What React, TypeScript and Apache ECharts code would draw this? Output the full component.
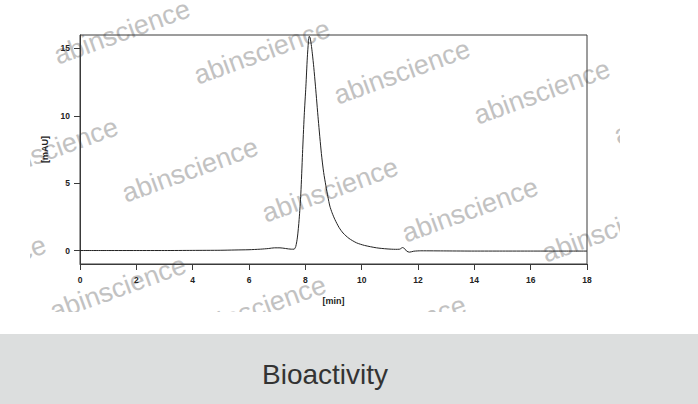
import React, { useEffect, useRef } from "react";
import * as echarts from "echarts";

// Retention time (min) and absorbance (mAU)
const timeMin: number[] = [
  0, 1, 2, 3, 4, 5, 5.5, 6, 6.4, 6.7, 6.9, 7.1, 7.3, 7.5, 7.6, 7.66, 7.72, 7.78, 7.84, 7.9,
  7.96, 8.02, 8.07, 8.11, 8.14, 8.17, 8.21, 8.25, 8.3, 8.36, 8.46, 8.57, 8.65, 8.73, 8.8, 8.87,
  8.95, 9.05, 9.2, 9.34, 9.55, 9.82, 10.1, 10.53, 10.9, 11.2, 11.35, 11.45, 11.52, 11.6, 11.7,
  11.85, 12.1, 13, 14, 15, 16, 17, 18,
];
const signalMAU: number[] = [
  0, 0, 0, 0, 0.01, 0.02, 0.04, 0.06, 0.1, 0.15, 0.2, 0.2, 0.15, 0.1, 0.1, 0.3, 1.0, 2.3, 4.2, 7.2,
  10.0, 12.2, 14.3, 15.5, 15.9, 15.8, 15.3, 14.6, 13.6, 12.2, 9.7, 7.2, 5.8, 4.8, 4.0, 3.3,
  2.8, 2.3, 1.7, 1.3, 0.9, 0.57, 0.38, 0.2, 0.12, 0.09, 0.1, 0.22, 0.15, -0.05, -0.12,
  -0.05, -0.02, -0.03, -0.04, -0.04, -0.04, -0.04, -0.04,
];
const yTickValues: number[] = [0, 5, 10, 15];
const xAxisName = "[min]";
const yAxisName = "[mAU]";
const captionText = "Bioactivity";
const watermarkText = "abinscience";
const watermarkCenters: number[][] = [
  [122, 32], [262, 52], [402, 72], [542, 92], [682, 112],
  [50, 150], [190, 170], [330, 190], [470, 210], [610, 230],
  [-22, 268], [118, 288], [258, 308], [398, 328],
];

export default function App() {
  const ref = useRef<HTMLDivElement>(null);
  useEffect(() => {
    document.body.style.margin = "0";
    if (!ref.current) return;
    const chart = echarts.init(ref.current, null, { renderer: "svg" });
    const font = "'Liberation Sans', Arial, Helvetica, sans-serif";
    const axisColor = "#3a3a3a";
    const data = timeMin.map((t, i) => [t, signalMAU[i]]);
    const watermarks = watermarkCenters.map(([x, y]) => ({
      type: "text",
      x,
      y,
      rotation: (20 * Math.PI) / 180,
      z: -10,
      silent: true,
      style: {
        text: watermarkText,
        fontSize: 27,
        fontFamily: font,
        fill: "#c2c2c2",
        align: "center",
        verticalAlign: "middle",
      },
    }));
    chart.setOption({
      animation: false,
      backgroundColor: "#ffffff",
      grid: {
        left: 80,
        right: 111,
        top: 35,
        bottom: 140,
        show: true,
        borderColor: axisColor,
        borderWidth: 1,
        backgroundColor: "transparent",
        outerBoundsMode: "none",
      },
      xAxis: {
        type: "value",
        min: 0,
        max: 18,
        interval: 2,
        name: xAxisName,
        nameLocation: "middle",
        nameGap: 32,
        nameTextStyle: { fontSize: 9, fontWeight: "bold", fontFamily: font, color: "#222" },
        axisLine: { onZero: false, lineStyle: { color: axisColor, width: 1 } },
        axisTick: { show: true, length: 6, lineStyle: { color: axisColor } },
        axisLabel: { margin: 11, fontSize: 8.5, fontWeight: "bold", fontFamily: font, color: "#222" },
        splitLine: { show: false },
      },
      yAxis: {
        type: "value",
        min: -1,
        max: 16,
        name: yAxisName,
        nameLocation: "middle",
        nameGap: 30,
        nameRotate: 90,
        nameTextStyle: { fontSize: 9, fontWeight: "bold", fontFamily: font, color: "#222" },
        axisLine: { show: true, lineStyle: { color: axisColor, width: 1 } },
        axisTick: { show: true, length: 6, customValues: yTickValues, lineStyle: { color: axisColor } },
        axisLabel: { margin: 10, fontSize: 8.5, fontWeight: "bold", fontFamily: font, color: "#222", customValues: yTickValues },
        splitLine: { show: false },
      },
      series: [
        {
          type: "line",
          data,
          showSymbol: false,
          smooth: 0.25,
          z: 5,
          lineStyle: { color: "#222222", width: 1 },
        },
      ],
      graphic: [
        ...watermarks,
        { type: "rect", z: -5, silent: true, shape: { x: 0, y: 0, width: 30, height: 334 }, style: { fill: "#ffffff" } },
        { type: "rect", z: -5, silent: true, shape: { x: 620, y: 0, width: 78, height: 334 }, style: { fill: "#ffffff" } },
        { type: "rect", z: -5, silent: true, shape: { x: 0, y: 312, width: 698, height: 22 }, style: { fill: "#ffffff" } },
        { type: "rect", z: -4, silent: true, shape: { x: 0, y: 334, width: 698, height: 70 }, style: { fill: "#dcdede" } },
        {
          type: "text",
          z: 10,
          x: 325,
          y: 374,
          style: {
            text: captionText,
            fontSize: 28,
            fontFamily: font,
            fill: "#333333",
            align: "center",
            verticalAlign: "middle",
          },
        },
      ],
    });
    return () => chart.dispose();
  }, []);
  return <div ref={ref} style={{ width: 698, height: 404 }} />;
}
